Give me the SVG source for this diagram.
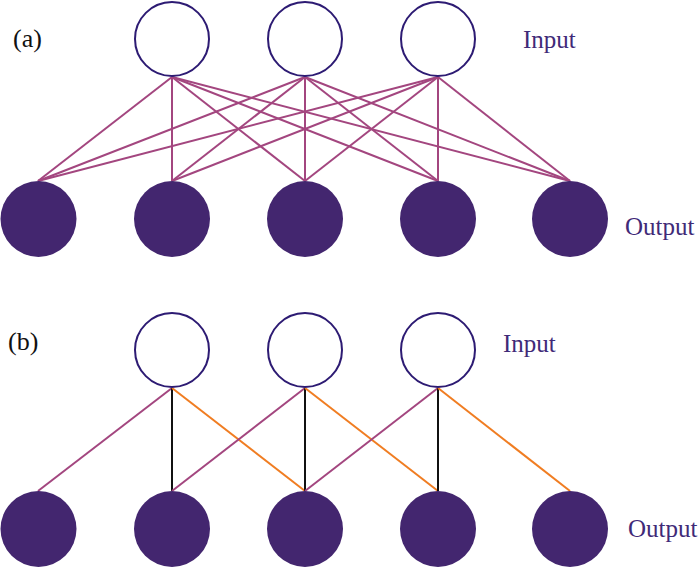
<svg xmlns="http://www.w3.org/2000/svg" width="700" height="568" viewBox="0 0 700 568">
<style>
.in{fill:#ffffff;stroke:#2d1b73;stroke-width:2}
.out{fill:#43266f;stroke:none}
.m{stroke:#a3467f;stroke-width:2;fill:none}
.k{stroke:#111111;stroke-width:2;fill:none}
.o{stroke:#f07d22;stroke-width:2;fill:none}
.lab{font-family:"Liberation Serif",serif;font-size:25px;fill:#3f2a78}
.pl{font-family:"Liberation Serif",serif;font-size:26px;fill:#111111}
</style>
<rect width="700" height="568" fill="#ffffff"/>
<g id="connectors">
<g id="conn-a">
<line class="m" x1="172" y1="77" x2="38" y2="181"/>
<line class="m" x1="172" y1="77" x2="172" y2="181"/>
<line class="m" x1="172" y1="77" x2="305" y2="181"/>
<line class="m" x1="172" y1="77" x2="438" y2="181"/>
<line class="m" x1="172" y1="77" x2="570" y2="181"/>
<line class="m" x1="305" y1="77" x2="38" y2="181"/>
<line class="m" x1="305" y1="77" x2="172" y2="181"/>
<line class="m" x1="305" y1="77" x2="305" y2="181"/>
<line class="m" x1="305" y1="77" x2="438" y2="181"/>
<line class="m" x1="305" y1="77" x2="570" y2="181"/>
<line class="m" x1="438" y1="77" x2="38" y2="181"/>
<line class="m" x1="438" y1="77" x2="172" y2="181"/>
<line class="m" x1="438" y1="77" x2="305" y2="181"/>
<line class="m" x1="438" y1="77" x2="438" y2="181"/>
<line class="m" x1="438" y1="77" x2="570" y2="181"/>
</g>
<g id="conn-b">
<line class="m" x1="172" y1="388" x2="38" y2="491"/>
<line class="k" x1="172" y1="388" x2="172" y2="491"/>
<line class="o" x1="172" y1="388" x2="305" y2="491"/>
<line class="m" x1="305" y1="388" x2="172" y2="491"/>
<line class="k" x1="305" y1="388" x2="305" y2="491"/>
<line class="o" x1="305" y1="388" x2="438" y2="491"/>
<line class="m" x1="438" y1="388" x2="305" y2="491"/>
<line class="k" x1="438" y1="388" x2="438" y2="491"/>
<line class="o" x1="438" y1="388" x2="570" y2="491"/>
</g>
</g>
<g id="a-in1"><circle class="in" cx="172" cy="39" r="37"/></g>
<g id="a-in2"><circle class="in" cx="305" cy="39" r="37"/></g>
<g id="a-in3"><circle class="in" cx="438" cy="39" r="37"/></g>
<g id="a-out1"><circle class="out" cx="38.5" cy="219" r="38"/></g>
<g id="a-out2"><circle class="out" cx="172" cy="219" r="38"/></g>
<g id="a-out3"><circle class="out" cx="305" cy="219" r="38"/></g>
<g id="a-out4"><circle class="out" cx="438" cy="219" r="38"/></g>
<g id="a-out5"><circle class="out" cx="570" cy="219" r="38"/></g>
<g id="b-in1"><circle class="in" cx="172" cy="350" r="37"/></g>
<g id="b-in2"><circle class="in" cx="305" cy="350" r="37"/></g>
<g id="b-in3"><circle class="in" cx="438" cy="350" r="37"/></g>
<g id="b-out1"><circle class="out" cx="38.5" cy="529" r="38"/></g>
<g id="b-out2"><circle class="out" cx="172" cy="529" r="38"/></g>
<g id="b-out3"><circle class="out" cx="305" cy="529" r="38"/></g>
<g id="b-out4"><circle class="out" cx="438" cy="529" r="38"/></g>
<g id="b-out5"><circle class="out" cx="570" cy="529" r="38"/></g>
<g id="labels">
<text class="pl" x="13" y="47">(a)</text>
<text class="lab" x="523" y="48">Input</text>
<text class="lab" x="625" y="235">Output</text>
<text class="pl" x="8" y="350">(b)</text>
<text class="lab" x="503" y="352">Input</text>
<text class="lab" x="628" y="537">Output</text>
</g>
</svg>
